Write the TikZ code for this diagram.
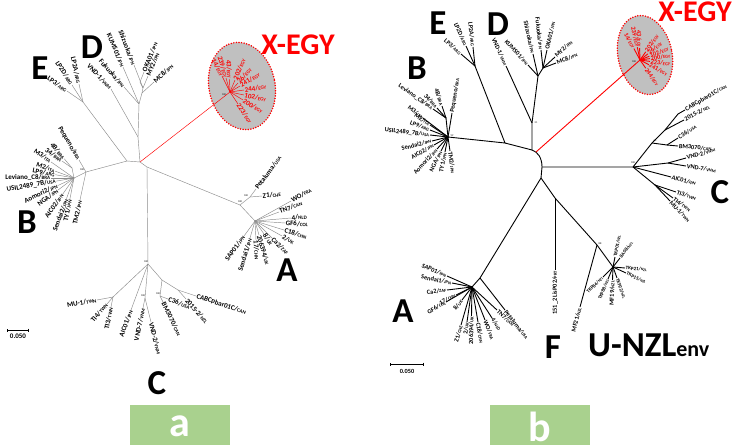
\documentclass[tikz,border=0pt]{standalone}
\usepackage{fontspec}
\setmainfont{Carlito}
\usetikzlibrary{calc,arrows.meta}
\definecolor{grn}{HTML}{A9D18E}
\definecolor{egyred}{HTML}{FF0000}
\definecolor{elfill}{HTML}{C0C0C0}
\definecolor{bragray}{HTML}{8C8C8C}
\tikzset{
  bra/.style={draw=bragray, line width=0.45pt},
  brb/.style={draw=black, line width=0.9pt},
  reda/.style={draw=egyred, line width=0.45pt},
  redb/.style={draw=egyred, line width=0.9pt},
  laba/.style={font=\fontsize{7}{7}\selectfont\bfseries\def\ccsize{5}, inner sep=0.5pt, text=black},
  lab/.style={font=\fontsize{6.3}{6.3}\selectfont\bfseries\def\ccsize{4.5}, inner sep=0.5pt, text=black},
  slab/.style={font=\fontsize{5}{5}\selectfont\bfseries\def\ccsize{3.8}, inner sep=0.4pt, text=black},
  rlaba/.style={font=\fontsize{7}{7}\selectfont\bfseries\def\ccsize{5}, inner sep=0.5pt, text=egyred},
  rlab/.style={font=\fontsize{6.3}{6.3}\selectfont\bfseries\def\ccsize{4.5}, inner sep=0.5pt, text=egyred},
  big/.style={font=\fontsize{35}{35}\selectfont\bfseries, inner sep=0pt},
  egy/.style={font=\fontsize{30}{30}\selectfont\bfseries, inner sep=0pt, text=egyred},
  clade/.style={draw=egyred, fill=elfill, line width=1.7pt, dash pattern=on 0pt off 2.6pt, line cap=round},
  tag/.style={fill=grn, minimum width=100pt, minimum height=40pt, anchor=north west, inner sep=0pt},
  tagtxt/.style={text=white, font=\fontsize{42}{42}\selectfont\bfseries, inner sep=0pt},
  bs/.style={font=\fontsize{2.6}{2.6}\selectfont, inner sep=0pt},
  scalebar/.style={draw=black, line width=0.5pt, {|[width=3pt]}-{|[width=3pt]}},
}
\def\ccsize{4.5}
\newcommand\cc[1]{{\fontsize{\ccsize}{\ccsize}\selectfont #1}}
% style, label style, parent, name, end, anchor, text
\newcommand\lf[7]{\coordinate (#4) at (#5);
  \draw[#1] (#3) -- (#4) node[#2, pos=1, sloped, anchor=#6] (#4t) {#7};}
% style, label style, parent, name, angle, radius, anchor, text
\newcommand\lfp[8]{\coordinate (#4) at ($(#3)+(#5:#6)$);
  \draw[#1] (#3) -- (#4) node[#2, pos=1, sloped, anchor=#7] (#4t) {#8};}
% style, label style, parent, name, end, anchor, rotation, text
\newcommand\lfr[8]{\coordinate (#4) at (#5);
  \draw[#1] (#3) -- (#4) node[#2, pos=1, rotate=#7, anchor=#6] (#4t) {#8};}

\begin{document}
\begin{tikzpicture}[x=1pt,y=-1pt]
\useasboundingbox (0,0) rectangle (734,445);
\fill[white] (0,0) rectangle (734,445);

%================ PANEL a ================
\draw[clade, rotate around={12:(242,86)}] (242,86) ellipse [x radius=33pt, y radius=44pt];

\coordinate (ca) at (140,162);
\coordinate (caEB) at (127,161);
\coordinate (caD1) at (138,137);
\coordinate (caD2) at (139,104);
\coordinate (caD6) at (142,93);
\coordinate (caD3) at (143,88);
\coordinate (caD4) at (140,82);
\coordinate (caE) at (83,102);
\coordinate (caB1) at (86,172);
\coordinate (caB) at (74,178);
\coordinate (caBp) at (72,168);
\coordinate (caX) at (230,92);
\coordinate (caA0) at (147,167);
\coordinate (caA1) at (240,205);
\coordinate (caAp) at (250,197);
\coordinate (caA) at (255,221);
\coordinate (caC) at (148,264);
\coordinate (caC1) at (162,280);
\coordinate (caC2) at (160,296);
\coordinate (caC3) at (178,290);
\coordinate (caCm) at (113,297);
\coordinate (caCv) at (145,298);

\draw[bra] (caD1) -- (ca) -- (caA0) -- (caC);
\draw[bra] (caA0) -- (caA1) -- (caA);
\draw[bra] (caA1) -- (caAp);
\draw[reda] (ca) -- (caX);
\draw[bra] (caE) -- (caEB) -- (ca);
\draw[bra] (caEB) -- (caB1) -- (caB) -- (caBp);
\draw[bra] (caD1) -- (caD2) -- (caD6) -- (caD3) -- (caD4);
\draw[bra] (caC) -- (caC1) -- (caC2);
\draw[bra] (caC1) -- (caC3);
\draw[bra] (caC) -- (caCm);
\draw[bra] (caC) -- (caCv);

% D
\lfr{bra}{laba}{caD1}{aVND1}{111,89}{east}{-47}{VND-1/\cc{VNM}}
\lf{bra}{laba}{caD2}{aFuk}{124,87}{east}{Fukuoka/\cc{JPN}}
\lf{bra}{laba}{caD2}{aKUM}{123,67}{east}{KUMS01/\cc{JPN}}
\lf{bra}{laba}{caD3}{aShi}{134,65}{east}{Shizuoka/\cc{JPN}}
\lf{bra}{laba}{caD4}{aOKA}{144,72}{west}{OKA01/\cc{JPN}}
\lf{bra}{laba}{caD3}{aMY2}{148,76}{west}{MY2/\cc{JPN}}
\lf{bra}{laba}{caD6}{aMC8}{154,82}{west}{MC8/\cc{JPN}}
% E
\lf{bra}{laba}{caE}{aLP3}{67,91}{east}{LP3/\cc{ARG}}
\lf{bra}{laba}{caE}{aLP2D}{72,85}{east}{LP2D/\cc{ARG}}
\lf{bra}{laba}{caE}{aLP2A}{79,84}{east}{LP2A/\cc{ARG}}
% B
\lf{bra}{laba}{caB1}{aPeq}{79,160}{east}{Pequeno/\cc{BRA}}
\lfp{bra}{laba}{caBp}{a4B}{230}{12}{east}{4B/\cc{BRA}}
\lf{bra}{laba}{caBp}{a34}{62,161}{east}{34/\cc{BRA}}
\lfp{bra}{laba}{caB}{aM3}{215}{28}{east}{M3/\cc{ITA}}
\lfp{bra}{laba}{caB}{aM2}{200}{20}{east}{M2/\cc{ITA}}
\lfp{bra}{laba}{caB}{aLP9}{190}{19}{east}{LP9/\cc{ARG}}
\lfp{bra}{laba}{caB}{aLev}{180}{23}{east}{Leviano\_C8/\cc{BRA}}
\lfp{bra}{laba}{caB}{aUSIL}{170}{18}{east}{USIL2489\_7B/\cc{USA}}
\lfp{bra}{laba}{caB}{aAom}{155}{18}{east}{Aomori2/\cc{JPN}}
\lfp{bra}{laba}{caB}{aNGA}{143}{20}{east}{NGA/\cc{JPN}}
\lfp{bra}{laba}{caB}{aAIC2}{125}{20}{east}{AIC02/\cc{JPN}}
\lfp{bra}{laba}{caB}{aSen2}{110}{22}{east}{Sendai2/\cc{JPN}}
\lfp{bra}{laba}{caB}{aTY1}{101}{22}{east}{TY1/\cc{JPN}}
\lf{bra}{laba}{caB1}{aTM2}{80,200}{east}{TM2/\cc{JPN}}
% A
\lf{bra}{laba}{caAp}{aPet}{256,189}{west}{Petaluma/\cc{USA}}
\lf{bra}{laba}{caAp}{aZ1}{262,196}{west}{Z1/\cc{CHE}}
\lf{bra}{laba}{caA}{aWO}{291,201}{west}{WO/\cc{FRA}}
\lf{bra}{laba}{caA}{aTN7}{279,212}{west}{TN7/\cc{CAN}}
\lf{bra}{laba}{caA}{a4N}{291,218}{west}{4/\cc{NLD}}
\lf{bra}{laba}{caA}{aGF6}{285,223}{west}{GF6/\cc{COL}}
\lf{bra}{laba}{caA}{aC18}{284,230}{west}{C18/\cc{CHN}}
\lf{bra}{laba}{caA}{a2UK}{282,236}{west}{2/\cc{UK}}
\lf{bra}{laba}{caA}{aCa2}{272,238}{west}{Ca2/\cc{ZAF}}
\lf{bra}{laba}{caA}{a8UK}{264,234}{west}{8/\cc{UK}}
\lf{bra}{laba}{caA}{a206}{259,235}{west}{206394/\cc{UK}}
\lf{bra}{laba}{caA}{a17}{256,240}{west}{17/\cc{CHN}}
\lf{bra}{laba}{caA}{aSen1}{250,238}{east}{Sendai1/\cc{JPN}}
\lf{bra}{laba}{caA}{aSAP}{244,236}{east}{SAP01/\cc{JPN}}
% C
\lf{bra}{laba}{caC2}{aBM}{163,302}{west}{BM3070/\cc{CAN}}
\lf{bra}{laba}{caC2}{aC36}{168,299}{west}{C36/\cc{USA}}
\lf{bra}{laba}{caC3}{aCABC}{196,296}{west}{CABCpbar01C/\cc{CAN}}
\lf{bra}{laba}{caC3}{a2015}{186,299}{west}{2015-2/\cc{NZL}}
\lf{bra}{laba}{caCm}{aMU1}{97,300}{east}{MU-1/\cc{TWN}}
\lf{bra}{laba}{caCm}{aTI4}{107,304}{east}{TI4/\cc{TWN}}
\lf{bra}{laba}{caCm}{aTI3}{111,307}{east}{TI3/\cc{TWN}}
\lf{bra}{laba}{caC}{aAIC1}{131,310}{east}{AIC01/\cc{JPN}}
\lf{bra}{laba}{caCv}{aVND7}{143,308}{east}{VND-7/\cc{VNM}}
\lf{bra}{laba}{caCv}{aVND2}{151,322}{west}{VND-2/\cc{VNM}}
% X-EGY
\lf{reda}{rlaba}{caX}{a14}{222,76}{east}{14/\cc{EGY}}
\lf{reda}{rlaba}{caX}{a239}{226,78}{east}{239/\cc{EGY}}
\lf{reda}{rlaba}{caX}{a43}{229.5,79}{east}{43/\cc{EGY}}
\lf{reda}{rlaba}{caX}{a202}{235,80}{west}{202/\cc{EGY}}
\lf{reda}{rlaba}{caX}{a26}{238,83}{west}{26/\cc{EGY}}
\lf{reda}{rlaba}{caX}{a241}{240,86}{west}{241/\cc{EGY}}
\lf{reda}{rlaba}{caX}{a244}{244,90}{west}{244/\cc{EGY}}
\lf{reda}{rlaba}{caX}{a102}{244,95}{west}{102/\cc{EGY}}
\lf{reda}{rlaba}{caX}{a200}{243,100}{west}{200/\cc{EGY}}
\lf{reda}{rlaba}{caX}{a223}{238,104}{west}{223/\cc{EGY}}

% bootstrap values a
\node[bs] (bsa1) at (82,170) {100};
\node[bs] (bsa2) at (146,262) {100};
\node[bs] (bsa3) at (240,202) {100};
\node[bs] (bsa4) at (246,196) {100};
\node[bs] (bsa5) at (158,294) {100};
\node[bs] (bsa6) at (143,296) {100};
\node[bs] (bsa7) at (224,95) {100};

% letters a
\node[big] (Da) at (92,47) {D};
\node[big] (Ea) at (40,68) {E};
\node[big] (Ba) at (27,222) {B};
\node[big] (Aa) at (287,270) {A};
\node[big] (Ca) at (157,383) {C};
\node[egy] (Xa) at (298,45) {X-EGY};

\coordinate (sa1) at (7,330);
\coordinate (sa2) at (28,330);
\draw[scalebar] (sa1) -- (sa2);
\node[laba] (sla) at (18,336) {0.050};
\node[tag] (taga) at (130,405) {};
\node[tagtxt] (tagat) at ($(taga.center)+(0,1.5)$) {a};

%================ PANEL b ================
\draw[clade, rotate around={12:(645,55)}] (645,55) ellipse [x radius=27pt, y radius=40pt];

\coordinate (cb1) at (532,150);
\coordinate (cbk1) at (538,152);
\coordinate (cbk2) at (542,158);
\coordinate (cb2) at (536,152);
\coordinate (cb3) at (542,167);
\coordinate (cb4) at (541,178);
\coordinate (cbEB) at (505,143);
\coordinate (cbE) at (475,66);
\coordinate (cbB) at (448,137);
\coordinate (cbBn) at (446,118);
\coordinate (cbD1) at (532,123);
\coordinate (cbD2) at (538,76);
\coordinate (cbD3) at (543,68);
\coordinate (cbX) at (640,60);
\coordinate (cbC) at (633,167);
\coordinate (cbC1) at (652,143);
\coordinate (cbC4) at (665,130);
\coordinate (cbC3) at (678,114);
\coordinate (cbC2) at (667,145);
\coordinate (cbCv) at (668,163);
\coordinate (cbCt) at (655,185);
\coordinate (cbA1) at (480,278);
\coordinate (cbA) at (472,287);
\coordinate (cbF) at (555,198);
\coordinate (cbU) at (597,245);
\coordinate (cbT) at (613,267);

\draw[brb] (cbEB) -- (cb1) .. controls (cbk1) and (cbk2) .. (cb3) -- (cb4);
\draw[brb] (cbE) -- (cbEB) -- (cbB) -- (cbBn);
\draw[brb] (cb1) -- (cbD1) -- (cbD2) -- (cbD3);
\draw[redb] (cb2) -- (cbX);
\draw[brb] (cb3) -- (cbC) -- (cbC1) -- (cbC4) -- (cbC3);
\draw[brb] (cbC1) -- (cbC2);
\draw[brb] (cbC) -- (cbCv);
\draw[brb] (cbC) -- (cbCt);
\draw[brb] (cb4) -- (cbA1) -- (cbA);
\draw[brb] (cb4) -- (cbF) -- (cbU) -- (cbT);

% E
\lf{brb}{lab}{cbE}{bLP3}{461,54}{east}{LP3/\cc{ARG}}
\lf{brb}{lab}{cbE}{bLP2D}{466,46}{east}{LP2D/\cc{ARG}}
\lf{brb}{lab}{cbE}{bLP2A}{473,47}{east}{LP2A/\cc{ARG}}
% B
\lf{brb}{lab}{cbB}{bPeq}{452,113}{west}{Pequeno/\cc{BRA}}
\lf{brb}{lab}{cbBn}{b4B}{442,106}{east}{4B/\cc{BRA}}
\lf{brb}{lab}{cbBn}{b34}{437,108}{east}{34/\cc{BRA}}
\lf{brb}{lab}{cbBn}{bLev}{433,109}{east}{Leviano\_C8/\cc{BRA}}
\lf{brb}{lab}{cbB}{bM3}{423,118}{east}{M3/\cc{ITA}}
\lf{brb}{lab}{cbB}{bM2}{430,125}{east}{M2/\cc{ITA}}
\lf{brb}{lab}{cbB}{bLP9}{430,130}{east}{LP9/\cc{ARG}}
\lf{brb}{lab}{cbB}{bUSIL}{430,135}{east}{USIL2489\_7B/\cc{USA}}
\lf{brb}{lab}{cbB}{bSen2}{432,141}{east}{Sendai2/\cc{JPN}}
\lf{brb}{lab}{cbB}{bAIC2}{434,145}{east}{AIC02/\cc{JPN}}
\lf{brb}{lab}{cbB}{bAom}{437,149}{east}{Aomori2/\cc{JPN}}
\lf{brb}{lab}{cbB}{bNGA}{441,151}{east}{NGA/\cc{JPN}}
\lf{brb}{lab}{cbB}{bTY1}{445,152}{east}{TY1/\cc{JPN}}
\lf{brb}{lab}{cbB}{bTM2}{450,151}{west}{TM2/\cc{JPN}}
% D
\lf{brb}{lab}{cbD1}{bVND1}{506,66}{east}{VND-1/\cc{VNM}}
\lf{brb}{lab}{cbD2}{bKUM}{528,65}{east}{KUMS01/\cc{JPN}}
\lf{brb}{lab}{cbD2}{bShi}{533,54}{east}{Shizuoka/\cc{JPN}}
\lf{brb}{lab}{cbD3}{bFuk}{541,50}{east}{Fukuoka/\cc{JPN}}
\lf{brb}{lab}{cbD3}{bOKA}{547,50}{west}{OKA01/\cc{JPN}}
\lf{brb}{lab}{cbD3}{bMY2}{555,57}{west}{MY2/\cc{JPN}}
\lf{brb}{lab}{cbD3}{bMC8}{556,63}{west}{MC8/\cc{JPN}}
% X-EGY
\lfp{redb}{rlab}{cbX}{b14}{-118}{13}{east}{14/\cc{EGY}}
\lfp{redb}{rlab}{cbX}{b239}{-102}{13}{east}{239/\cc{EGY}}
\lfp{redb}{rlab}{cbX}{b43}{-92}{12}{east}{43/\cc{EGY}}
\lfp{redb}{rlab}{cbX}{b202}{-55}{10}{west}{202/\cc{EGY}}
\lfp{redb}{rlab}{cbX}{b26}{-38}{10}{west}{26/\cc{EGY}}
\lfp{redb}{rlab}{cbX}{b102}{-22}{10}{west}{102/\cc{EGY}}
\lfp{redb}{rlab}{cbX}{b200}{-8}{10}{west}{200/\cc{EGY}}
\lfp{redb}{rlab}{cbX}{b223}{8}{10}{west}{223/\cc{EGY}}
\lfp{redb}{rlab}{cbX}{b241}{28}{10}{west}{241/\cc{EGY}}
\lfp{redb}{rlab}{cbX}{b244}{55}{10}{west}{244/\cc{EGY}}
% C
\lf{brb}{lab}{cbC3}{bCABC}{685,110}{west}{CABCpbar01C/\cc{CAN}}
\lf{brb}{lab}{cbC4}{b2015}{684,120}{west}{2015-2/\cc{NZL}}
\lf{brb}{lab}{cbC2}{bC36}{678,138}{west}{C36/\cc{USA}}
\lf{brb}{lab}{cbC2}{bBM}{678,146}{west}{BM3070/\cc{CAN}}
\lf{brb}{lab}{cbCv}{bVND2}{686,158}{west}{VND-2/\cc{VNM}}
\lf{brb}{lab}{cbCv}{bVND7}{686,166}{west}{VND-7/\cc{VNM}}
\lf{brb}{lab}{cbC}{bAIC1}{671,177}{west}{AIC01/\cc{JPN}}
\lf{brb}{lab}{cbCt}{bTI3}{676,192}{west}{TI3/\cc{TWN}}
\lf{brb}{lab}{cbCt}{bTI4}{673,198}{west}{TI4/\cc{TWN}}
\lf{brb}{lab}{cbCt}{bMU1}{670,201}{west}{MU-1/\cc{TWN}}
% A
\lf{brb}{lab}{cbA1}{bPet}{505,310}{west}{Petaluma/\cc{USA}}
\lf{brb}{lab}{cbA}{bSAP}{447,276}{east}{SAP01/\cc{JPN}}
\lf{brb}{lab}{cbA}{bSen1}{452,283}{east}{Sendai1/\cc{JPN}}
\lf{brb}{lab}{cbA}{bCa2}{447,290}{east}{Ca2/\cc{ZAF}}
\lf{brb}{lab}{cbA}{b17}{456,295}{east}{17/\cc{CHN}}
\lf{brb}{lab}{cbA}{bGF6}{446,302}{east}{GF6/\cc{COL}}
\lf{brb}{lab}{cbA}{b8UK}{462,300}{east}{8/\cc{UK}}
\lf{brb}{lab}{cbA}{bZ1}{461,325}{east}{Z1/\cc{CHE}}
\lf{brb}{lab}{cbA}{b2UK}{467,322}{east}{2/\cc{UK}}
\lf{brb}{lab}{cbA}{b206}{471.5,316}{east}{206394/\cc{UK}}
\lf{brb}{lab}{cbA}{bC18}{478,322}{west}{C18/\cc{CHN}}
\lf{brb}{lab}{cbA}{bWO}{485,320}{west}{WO/\cc{FRA}}
\lf{brb}{lab}{cbA}{b4N}{492,318}{west}{4/\cc{NLD}}
\lf{brb}{lab}{cbA}{bTN7}{497,310}{west}{TN7/\cc{CAN}}
% F
\coordinate (bF151) at (555,270);
\draw[brb] (cbF) -- (bF151) node[lab, pos=1, rotate=90, anchor=east] (bF151t) {151\_2 LisP02/\cc{PRT}};
% U-NZL
\lf{brb}{lab}{cbU}{bMF21}{580,307}{east}{MF21/\cc{NZL}}
\lf{brb}{slab}{cbT}{bTKP84}{603,277}{east}{TKP84/\cc{NZL}}
\lf{brb}{slab}{cbT}{bTKP88}{608,279}{east}{TKP88/\cc{NZL}}
\lf{brb}{lab}{cbT}{bMF19}{612.5,280}{east}{MF19/\cc{NZL}}
\lf{brb}{slab}{cbT}{bTKP22}{617,278}{west}{TKP22/\cc{NZL}}
\lf{brb}{slab}{cbT}{bTKP15}{626,273}{west}{TKP15/\cc{NZL}}
\lf{brb}{slab}{cbT}{bTKP21}{625,268}{west}{TKP21/\cc{NZL}}
\lf{brb}{slab}{cbT}{bTKP01}{615,257}{west}{TKP01/\cc{NZL}}
\lf{brb}{slab}{cbT}{b8A08}{620,258}{west}{8A08/\cc{NZL}}

% bootstrap values b
\node[bs] (bsb1) at (536,123) {21};
\node[bs] (bsb2) at (600,244) {88};
\node[bs] (bsb3) at (655,141) {65};
\node[bs] (bsb4) at (452,136) {99};
\node[bs] (bsb5) at (633,163) {100};
\node[bs] (bsb6) at (634,62) {100};

% letters b
\node[big] (Eb) at (438,23) {E};
\node[big] (Db) at (498,24) {D};
\node[big] (Bb) at (417,68) {B};
\node[big] (Cb) at (720,192) {C};
\node[big] (Ab) at (403,311) {A};
\node[big] (Fb) at (553,347) {F};
\node[big, anchor=west] (Ub) at (588,345) {U-NZL\fontsize{22}{22}\selectfont env};
\node[egy] (Xb) at (695,12) {X-EGY};

\coordinate (sb1) at (390,364);
\coordinate (sb2) at (423,364);
\draw[scalebar] (sb1) -- (sb2);
\node[lab] (slb) at (407,371) {0.050};
\node[tag] (tagb) at (490,405) {};
\node[tagtxt] (tagbt) at ($(tagb.center)+(0,1.5)$) {b};
\end{tikzpicture}
\end{document}
